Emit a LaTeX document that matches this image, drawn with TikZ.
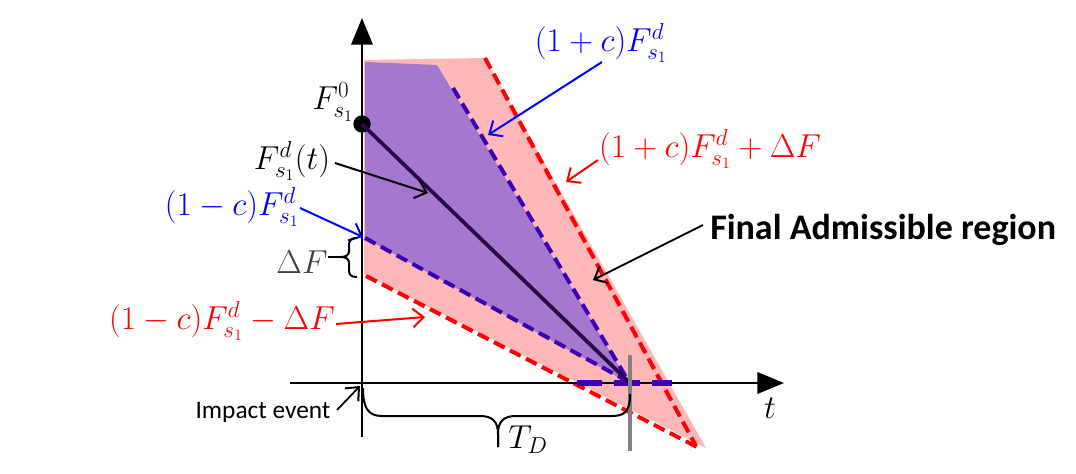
\documentclass[tikz,border=0pt]{standalone}
\usepackage{fontspec}
\newfontfamily\calib{Carlito}
\usetikzlibrary{arrows.meta}
\definecolor{pinkfill}{RGB}{255,183,183}
\definecolor{purplefill}{RGB}{164,120,206}
\definecolor{indigo}{RGB}{60,0,180}
\definecolor{darkline}{RGB}{40,10,70}
\definecolor{mygray}{RGB}{128,128,128}
\definecolor{dfgray}{RGB}{64,64,64}
\tikzset{
  axisline/.style={line width=1.9pt,-{Triangle[length=20pt,width=16pt]}},
  reddash/.style={draw=red,line width=3pt,dash pattern=on 9pt off 4.5pt},
  bluedash/.style={draw=indigo,line width=3pt,dash pattern=on 9pt off 4.5pt},
  pointer/.style={line width=1.5pt,-{Straight Barb[length=8pt,width=14pt,line width=1.5pt]}},
  mlabel/.style={inner sep=0pt,font=\fontsize{25}{29}\selectfont},
  brace/.style={line width=1.5pt,line join=round}
}
\begin{document}
\begin{tikzpicture}[x=0.75pt,y=-0.75pt]
\useasboundingbox (0,0) rectangle (1076,474);
% regions
\fill[pinkfill] (364,60) -- (485,58) -- (706,448) -- (364,274) -- cycle;
\fill[purplefill] (365,62) -- (437,65) -- (629,383) -- (365,238) -- cycle;
% bounds
\draw[reddash] (485,58) -- (696,446);
\draw[reddash] (366,276) -- (697,447);
\draw[bluedash] (453,88) -- (629,382);
\draw[bluedash] (365,238) -- (629,382);
% axes
\coordinate (ybot) at (362,437);
\coordinate (ytop) at (362,18);
\coordinate (xl) at (290,383);
\coordinate (xr) at (784,383);
\draw[axisline] (ybot) -- (ytop);
\draw[axisline] (xl) -- (xr);
% horizontal dashed on axis
\draw[indigo,line width=4pt,dash pattern=on 19pt off 9pt] (577,383) -- (672,383);
% desired trajectory
\coordinate (apex) at (629,382);
\node[circle,fill=black,inner sep=0pt,minimum size=13pt] (dot) at (362,124) {};
\draw[darkline,line width=2.8pt] (dot.center) -- (apex);
% gray marker
\draw[mygray,line width=2.3pt] (630,355) -- (630,451);
% labels
\node[mlabel] (lF0) at (333,102) {$F^{0}_{s_1}$};
\node[mlabel] (lFd) at (292,161) {$F^{d}_{s_1}(t)$};
\node[mlabel,blue] (lminus) at (232,207) {$(1-c)F^{d}_{s_1}$};
\node[mlabel,dfgray] (lDF) at (302,262) {$\Delta F$};
\node[mlabel,red] (lminusD) at (222,321) {$(1-c)F^{d}_{s_1}-\Delta F$};
\node[mlabel,blue] (lplus) at (601,43) {$(1+c)F^{d}_{s_1}$};
\node[mlabel,red] (lplusD) at (710,149) {$(1+c)F^{d}_{s_1}+\Delta F$};
\node[anchor=west,inner sep=0pt,font=\calib\bfseries\fontsize{27}{31}\selectfont] (lfinal) at (710,230) {Final Admissible region};
\node[inner sep=0pt,font=\calib\fontsize{19}{22}\selectfont] (limpact) at (263,412) {Impact event};
\node[mlabel,font=\fontsize{29}{33}\selectfont] (lt) at (770,408) {$t$};
\node[mlabel] (lTD) at (528,440) {$T_D$};
% pointer starts (beside their labels)
\coordinate (sFd) at (335,163);
\coordinate (sminus) at (300,208);
\coordinate (sminusD) at (336,324);
\coordinate (splus) at (602,62);
\coordinate (splusD) at (598,160);
\coordinate (sfinal) at (703,225);
\coordinate (simpact) at (337,410);
% pointer ends
\coordinate (pFd) at (428,193);
\coordinate (pminus) at (363,237);
\coordinate (pminusD) at (425,317);
\coordinate (pplus) at (488,135);
\coordinate (pplusD) at (566,182);
\coordinate (pfinal) at (593,280);
\coordinate (pimpact) at (360,386);
\draw[pointer,black] (sFd) -- (pFd);
\draw[pointer,blue] (sminus) -- (pminus);
\draw[pointer,red] (sminusD) -- (pminusD);
\draw[pointer,blue] (splus) -- (pplus);
\draw[pointer,red] (splusD) -- (pplusD);
\draw[pointer,black] (sfinal) -- (pfinal);
\draw[pointer,black,line width=1.3pt] (simpact) -- (pimpact);
% Delta F brace
\coordinate (btip) at (341,257);
\coordinate (btick) at (328,257);
\draw[brace] (357,238) .. controls (350,238) and (349,241) .. (349,246) -- (349,251)
  .. controls (349,255) and (346,257) .. (btip)
  .. controls (346,257) and (349,259) .. (349,263) -- (349,270)
  .. controls (349,275) and (351,277) .. (357,277);
\draw[line width=1.5pt] (btick) -- (btip);
% T_D brace
\coordinate (tdtip) at (498,447);
\draw[brace] (363,388) .. controls (363,408) and (368,416) .. (382,416) -- (480,416)
  .. controls (493,416) and (498,422) .. (498,434) -- (tdtip);
\draw[brace] (tdtip) -- (498,434) .. controls (498,422) and (503,416) .. (516,416) -- (612,416)
  .. controls (626,416) and (630,410) .. (630,394);
\end{tikzpicture}
\end{document}
